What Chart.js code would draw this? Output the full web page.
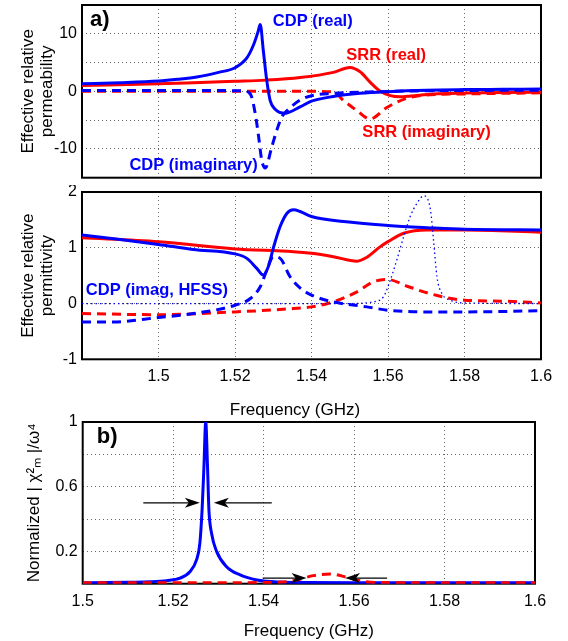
<!DOCTYPE html>
<html>
<head>
<meta charset="utf-8">
<script src="https://cdn.jsdelivr.net/npm/chart.js@4"></script>
<style>
  html, body { margin: 0; padding: 0; background: #fff; }
  #wrap { position: relative; width: 568px; height: 641px; overflow: hidden; }
  canvas { position: absolute; left: 0; }
</style>
</head>
<body>
<div id="wrap">
  <canvas id="chartA" width="568" height="185" style="top:0px"></canvas>
  <canvas id="chartB" width="568" height="235" style="top:185px"></canvas>
  <canvas id="chartC" width="568" height="231" style="top:410px"></canvas>
</div>
<script>
// ---- panel a (top): effective relative permeability ----
const muCdpRealF = [1.48, 1.49, 1.50, 1.505, 1.51, 1.5157, 1.52, 1.5231, 1.5248, 1.526, 1.5266, 1.5274, 1.5283, 1.5292, 1.5305, 1.5331, 1.537, 1.54, 1.5457, 1.5527, 1.56, 1.57, 1.58, 1.59, 1.60];
const muCdpRealV = [1.3, 1.5, 1.8, 2.1, 2.5, 3.3, 4.1, 5.8, 8.0, 10.3, 11.6, 7.1, 1.9, -1.6, -3.1, -3.8, -2.7, -1.7, -0.9, -0.35, -0.05, 0.2, 0.3, 0.35, 0.4];
const muCdpImagF = [1.48, 1.51, 1.522, 1.524, 1.5253, 1.5262, 1.527, 1.5279, 1.5296, 1.5309, 1.5322, 1.534, 1.537, 1.54, 1.5457, 1.555, 1.57, 1.60];
const muCdpImagV = [0.15, 0.15, 0.1, -0.45, -3.9, -8.0, -12.0, -13.3, -9.7, -6.8, -4.5, -3.1, -1.5, -0.75, -0.35, -0.1, 0.1, 0.2];
const muSrrRealF = [1.48, 1.50, 1.511, 1.52, 1.528, 1.537, 1.5457, 1.55, 1.5527, 1.5553, 1.558, 1.5606, 1.5632, 1.566, 1.5718, 1.58, 1.598, 1.60];
const muSrrRealV = [1.0, 1.3, 1.55, 1.75, 1.95, 2.4, 3.3, 4.15, 3.4, 1.6, 0.0, -0.75, -0.95, -0.8, -0.45, -0.3, -0.17, -0.15];
const muSrrImagF = [1.48, 1.54, 1.5457, 1.5484, 1.5519, 1.5553, 1.5597, 1.5645, 1.57, 1.58, 1.60];
const muSrrImagV = [0.0, 0.0, -0.1, -1.6, -3.35, -4.8, -2.8, -1.3, -0.63, -0.45, -0.25];

// ---- panel a (middle): effective relative permittivity ----
const epsCdpRealF = [1.48, 1.49, 1.50, 1.5091, 1.52, 1.5231, 1.5257, 1.5274, 1.5287, 1.53, 1.5318, 1.5336, 1.5353, 1.537, 1.54, 1.5484, 1.56, 1.5702, 1.58, 1.60];
const epsCdpRealV = [1.23, 1.15, 1.06, 0.97, 0.89, 0.81, 0.63, 0.51, 0.66, 0.99, 1.38, 1.62, 1.68, 1.65, 1.56, 1.47, 1.40, 1.36, 1.33, 1.32];
const epsSrrRealF = [1.48, 1.50, 1.52, 1.5353, 1.54, 1.5457, 1.5519, 1.5545, 1.558, 1.56, 1.5641, 1.5702, 1.58, 1.60];
const epsSrrRealV = [1.18, 1.11, 0.98, 0.93, 0.90, 0.84, 0.76, 0.83, 1.02, 1.11, 1.26, 1.32, 1.32, 1.28];
const epsCdpImagF = [1.48, 1.4882, 1.50, 1.5091, 1.52, 1.524, 1.5266, 1.5283, 1.53, 1.5318, 1.5344, 1.537, 1.54, 1.5457, 1.5545, 1.56, 1.5702, 1.58, 1.60];
const epsCdpImagV = [-0.33, -0.33, -0.25, -0.18, -0.03, 0.09, 0.30, 0.6, 0.84, 0.81, 0.48, 0.28, 0.15, 0.03, -0.06, -0.12, -0.15, -0.15, -0.13];
const epsSrrImagF = [1.48, 1.50, 1.52, 1.5353, 1.54, 1.5457, 1.5519, 1.5562, 1.56, 1.565, 1.5719, 1.58, 1.5912, 1.60];
const epsSrrImagV = [-0.18, -0.2, -0.15, -0.09, -0.06, 0.03, 0.21, 0.39, 0.43, 0.31, 0.16, 0.06, 0.04, 0.01];
const epsHfssF = [1.48, 1.55, 1.556, 1.5588, 1.5606, 1.5623, 1.5641, 1.5658, 1.5676, 1.5693, 1.5711, 1.5719, 1.5728, 1.5741, 1.5763, 1.58, 1.60];
const epsHfssV = [0, 0, 0.03, 0.12, 0.42, 0.78, 1.2, 1.56, 1.8, 1.93, 1.68, 1.14, 0.48, 0.18, 0.06, 0.01, 0];

// ---- panel b: normalized |chi_m|^2 / w^4 ----
const chiCdpF = [1.50, 1.505, 1.51, 1.515, 1.5186, 1.5215, 1.5237, 1.5252, 1.5259, 1.5264, 1.5268, 1.5272, 1.5276, 1.5279, 1.5285, 1.5296, 1.5318, 1.5348, 1.5385, 1.5436, 1.55, 1.56, 1.58, 1.60];
const chiCdpV = [0.006, 0.007, 0.009, 0.012, 0.019, 0.034, 0.074, 0.15, 0.25, 0.46, 0.72, 1.0, 0.72, 0.46, 0.31, 0.2, 0.105, 0.054, 0.023, 0.01, 0.007, 0.006, 0.006, 0.006];
const chiSrrF = [1.50, 1.52, 1.54, 1.5436, 1.5473, 1.551, 1.5547, 1.5584, 1.562, 1.5657, 1.58, 1.60];
const chiSrrV = [0.006, 0.006, 0.007, 0.009, 0.023, 0.05, 0.06, 0.04, 0.014, 0.007, 0.006, 0.006];

// FWHM arrows in panel b
const arrowFrom = [1.5134, 1.5418, 1.5398, 1.5673];
const arrowTo = [1.5259, 1.5290, 1.5495, 1.5580];
const arrowLevel = [0.5, 0.5, 0.035, 0.035];

// ticks
const freqGridA = [1.48, 1.50, 1.52, 1.54, 1.56, 1.58, 1.60];
const freqLabelsA = ['', '1.5', '1.52', '1.54', '1.56', '1.58', '1.6'];
const freqGridB = [1.50, 1.52, 1.54, 1.56, 1.58, 1.60];
const freqLabelsB = ['1.5', '1.52', '1.54', '1.56', '1.58', '1.6'];
const muGrid = [-15, -10, -5, 0, 5, 10, 15];
const muLabels = ['', '-10', '', '0', '', '10', ''];
const epsGrid = [-1, 0, 1, 2];
const epsLabels = ['-1', '0', '1', '2'];
const chiGrid = [0, 0.2, 0.4, 0.6, 0.8, 1];
const chiLabels = ['', '0.2', '', '0.6', '', '1'];

const BLUE = '#0000ff';
const RED = '#ff0000';
const FONT = "'Liberation Sans', Arial, Helvetica, sans-serif";

Chart.defaults.font.family = FONT;
Chart.defaults.color = '#000';

const toPts = (fs, vs) => fs.map((f, i) => ({ x: f, y: vs[i] }));

function line(fs, vs, color, dash, width) {
  return {
    data: toPts(fs, vs),
    borderColor: color,
    borderWidth: width || 3,
    borderDash: dash || [],
    pointRadius: 0,
    fill: false,
    tension: 0.3,
    cubicInterpolationMode: 'monotone'
  };
}

// black box around plot area, under the curves
const frameBox = {
  id: 'frameBox',
  beforeDatasetsDraw(chart) {
    const { ctx, chartArea: a } = chart;
    ctx.save();
    ctx.strokeStyle = '#000';
    ctx.lineWidth = 2;
    ctx.strokeRect(a.left, a.top, a.right - a.left, a.bottom - a.top);
    ctx.restore();
  }
};

// text labels placed in data coordinates
const textLabels = {
  id: 'textLabels',
  afterDatasetsDraw(chart, args, opts) {
    const { ctx, scales } = chart;
    ctx.save();
    (opts.items || []).forEach((it) => {
      ctx.font = `bold ${it.size || 16.5}px ${FONT}`;
      ctx.fillStyle = it.color;
      ctx.textAlign = 'left';
      ctx.textBaseline = 'middle';
      ctx.fillText(it.text, scales.x.getPixelForValue(it.x), scales.y.getPixelForValue(it.y));
    });
    ctx.restore();
  }
};

const fwhmArrows = {
  id: 'fwhmArrows',
  afterDatasetsDraw(chart) {
    const { ctx, scales } = chart;
    ctx.save();
    ctx.strokeStyle = '#000';
    ctx.fillStyle = '#000';
    ctx.lineWidth = 1.2;
    arrowFrom.forEach((f, i) => {
      const x0 = scales.x.getPixelForValue(f);
      const x1 = scales.x.getPixelForValue(arrowTo[i]);
      const y = scales.y.getPixelForValue(arrowLevel[i]);
      const d = Math.sign(x1 - x0);
      ctx.beginPath();
      ctx.moveTo(x0, y);
      ctx.lineTo(x1 - d * 8, y);
      ctx.stroke();
      ctx.beginPath();
      ctx.moveTo(x1, y);
      ctx.lineTo(x1 - d * 15, y - 5);
      ctx.lineTo(x1 - d * 11, y);
      ctx.lineTo(x1 - d * 15, y + 5);
      ctx.closePath();
      ctx.fill();
    });
    ctx.restore();
  }
};

function xAxis(grid, labels, min, max, height, withLabels, title) {
  return {
    type: 'linear',
    min, max,
    afterBuildTicks: (s) => { s.ticks = grid.map((v) => ({ value: v })); },
    afterFit: (s) => { s.height = height; s.paddingLeft = 0; s.paddingRight = 0; },
    grid: { color: 'rgba(0,0,0,0.6)', lineWidth: 1, drawTicks: false },
    border: { display: false, dash: [1, 3] },
    ticks: {
      display: withLabels,
      padding: 8,
      maxRotation: 0,
      autoSkip: false,
      font: { size: 16 },
      callback: (v, i) => labels[i]
    },
    title: title ? {
      display: true,
      text: title,
      font: { size: 17, lineHeight: 1.12 },
      padding: { top: 0, bottom: 0 }
    } : { display: false }
  };
}

function yAxis(grid, labels, min, max, width, title, titlePad) {
  return {
    type: 'linear',
    min, max,
    afterBuildTicks: (s) => { s.ticks = grid.map((v) => ({ value: v })); },
    afterFit: (s) => { s.width = width; s.paddingTop = 0; s.paddingBottom = 0; },
    grid: { color: 'rgba(0,0,0,0.6)', lineWidth: 1, drawTicks: false },
    border: { display: false, dash: [1, 3] },
    ticks: {
      padding: 5,
      autoSkip: false,
      font: { size: 16 },
      callback: (v, i) => labels[i]
    },
    title: {
      display: true,
      text: title,
      font: { size: 17, lineHeight: 1.12 },
      padding: { top: titlePad, bottom: 0 }
    }
  };
}

function baseOptions(padding, scales, labelItems) {
  return {
    responsive: false,
    devicePixelRatio: 1,
    animation: false,
    layout: { padding },
    plugins: {
      legend: { display: false },
      tooltip: { enabled: false },
      textLabels: { items: labelItems }
    },
    scales
  };
}

new Chart(document.getElementById('chartA'), {
  type: 'line',
  data: {
    datasets: [
      line(muCdpRealF, muCdpRealV, BLUE),
      line(muCdpImagF, muCdpImagV, BLUE, [9, 6]),
      line(muSrrRealF, muSrrRealV, RED),
      line(muSrrImagF, muSrrImagV, RED, [9, 6])
    ]
  },
  options: baseOptions(
    { top: 5, right: 27, left: 0, bottom: 0 },
    {
      x: xAxis(freqGridA, freqLabelsA, 1.48, 1.6, 7.3, false, null),
      y: yAxis(muGrid, muLabels, -15, 15, 82, ['Effective relative', 'permeability'], 18.5)
    },
    [
      { text: 'a)', x: 1.4821, y: 12.45, color: '#000', size: 22 },
      { text: 'CDP (real)', x: 1.5299, y: 12.15, color: BLUE },
      { text: 'SRR (real)', x: 1.5491, y: 6.2, color: RED },
      { text: 'SRR (imaginary)', x: 1.5533, y: -7.1, color: RED },
      { text: 'CDP (imaginary)', x: 1.4924, y: -12.9, color: BLUE }
    ]
  ),
  plugins: [frameBox, textLabels]
});

new Chart(document.getElementById('chartB'), {
  type: 'line',
  data: {
    datasets: [
      line(epsHfssF, epsHfssV, BLUE, [1.5, 3], 1.3),
      line(epsCdpRealF, epsCdpRealV, BLUE),
      line(epsSrrRealF, epsSrrRealV, RED),
      line(epsCdpImagF, epsCdpImagV, BLUE, [9, 6]),
      line(epsSrrImagF, epsSrrImagV, RED, [9, 6])
    ]
  },
  options: baseOptions(
    { top: 7, right: 27, left: 0, bottom: 0 },
    {
      x: xAxis(freqGridA, freqLabelsA, 1.48, 1.6, 60.7, true, 'Frequency (GHz)' + '\u00a0'.repeat(7)),
      y: yAxis(epsGrid, epsLabels, -1, 2, 82, ['Effective relative', 'permittivity'], 18.5)
    },
    [
      { text: 'CDP (imag, HFSS)', x: 1.481, y: 0.24, color: BLUE }
    ]
  ),
  plugins: [frameBox, textLabels]
});

new Chart(document.getElementById('chartC'), {
  type: 'line',
  data: {
    datasets: [
      line(chiSrrF, chiSrrV, RED, [9, 6]),
      line(chiCdpF, chiCdpV, BLUE)
    ]
  },
  options: baseOptions(
    { top: 12, right: 33, left: 0, bottom: 0 },
    {
      x: xAxis(freqGridB, freqLabelsB, 1.5, 1.6, 57.3, true, 'Frequency (GHz)'),
      y: yAxis(chiGrid, chiLabels, 0, 1, 82.7, 'Normalized | \u03c7\u00b2\u2098 |/\u03c9\u2074', 24.5)
    },
    [
      { text: 'b)', x: 1.5031, y: 0.909, color: '#000', size: 22 }
    ]
  ),
  plugins: [frameBox, textLabels, fwhmArrows]
});
</script>
</body>
</html>
